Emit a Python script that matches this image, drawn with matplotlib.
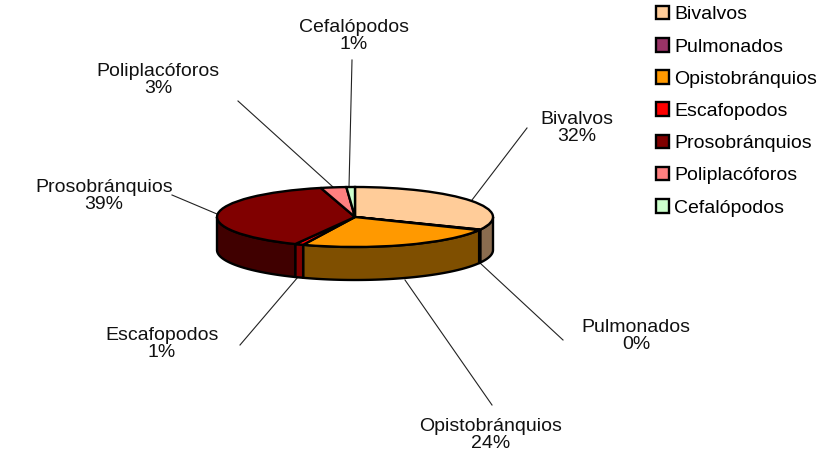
import numpy as np
import matplotlib
matplotlib.use("Agg")
import matplotlib.pyplot as plt
from matplotlib.patches import Patch

W, H = 837, 461
FONT = "Liberation Sans"
FS = 14

names = ["Bivalvos", "Pulmonados", "Opistobránquios", "Escafopodos",
         "Prosobránquios", "Poliplacóforos", "Cefalópodos"]
values = [32, 0.3, 24, 1, 39, 3, 1]
top_colors = ["#FFCC99", "#993366", "#FF9900", "#FF0000", "#800000", "#FF8080", "#CCFFCC"]
side_colors = ["#8A6C4F", "#4D1A33", "#7F4F00", "#7F0000", "#400000", "#7F4040", "#668066"]

# pixel geometry of the pie
CX, CY, RX, RY, DEPTH = 355, 217, 138, 30, 33
EDGE = 1.7

fig = plt.figure(figsize=(W / 100, H / 100), dpi=100)

# overlay in pixel coordinates: leader lines and labels
ax_t = fig.add_axes([0, 0, 1, 1])
ax_t.set_xlim(0, W)
ax_t.set_ylim(H, 0)
ax_t.axis("off")

leaders = {
    "Bivalvos": ((527, 128), (472, 200)),
    "Pulmonados": ((563, 340), (480, 263)),
    "Opistobránquios": ((492, 405), (405, 280)),
    "Escafopodos": ((240, 345), (298, 277)),
    "Prosobránquios": ((172, 195), (217, 214)),
    "Poliplacóforos": ((238, 101), (333, 187)),
    "Cefalópodos": ((352, 60), (349, 187)),
}
label_pos = {
    "Bivalvos": (577, 128), "Pulmonados": (636, 336), "Opistobránquios": (491, 435),
    "Escafopodos": (162, 344), "Prosobránquios": (104, 196),
    "Poliplacóforos": (158, 80), "Cefalópodos": (354, 36),
}
for n, v in zip(names, values):
    (x0, y0), (x1, y1) = leaders[n]
    ax_t.plot([x0, x1], [y0, y1], color="#222222", lw=0.8)
    lx, ly = label_pos[n]
    ax_t.text(lx, ly, f"{n}\n{v:.0f}%", ha="center", va="center", fontsize=FS,
              family=FONT, color="#111111", linespacing=1.05)

# pie: unit circle squashed by the axes scales
ax = fig.add_axes([0, 0, 1, 1])
ax.patch.set_alpha(0)
ax.pie(values, colors=top_colors, startangle=90, counterclock=False, radius=1,
       wedgeprops=dict(edgecolor="black", linewidth=EDGE))
ax.set_aspect("auto")
ax.set_xlim(-CX / RX, (W - CX) / RX)
ax.set_ylim(-(H - CY) / RY, CY / RY)
ax.set_frame_on(False)
ax.set_xticks([])
ax.set_yticks([])

# visible side wall of each wedge
fr = np.array(values) / np.sum(values)
ends = 90 - 360 * np.cumsum(fr)
starts = np.r_[90, ends[:-1]]
d = DEPTH / RY
for a0, a1, c in zip(starts, ends, side_colors):
    # keep only the front half: math angles between -180 and 0 (mod 360)
    for shift in (0, -360):
        hi = min(a0 - shift - 360 if False else a0 - shift, 0)
        lo = max(a1 - shift, -180)
        if hi <= lo:
            continue
        t = np.radians(np.linspace(hi, lo, 60))
        xs = np.cos(t)
        ys = np.sin(t)
        ax.fill(np.r_[xs, xs[::-1]], np.r_[ys, ys[::-1] - d], facecolor=c,
                edgecolor="black", linewidth=EDGE, joinstyle="round", zorder=0.5)

# legend
handles = [Patch(facecolor=c, edgecolor="black", linewidth=EDGE) for c in top_colors]
fig.legend(handles, names, loc="upper left", bbox_to_anchor=(650 / W, 1 - 0 / H),
           frameon=False, fontsize=FS, handlelength=0.7, handleheight=0.7,
           handletextpad=0.25, labelspacing=0.75, borderpad=0.3, borderaxespad=0,
           prop=dict(family=FONT, size=FS))

fig.savefig("out.png", dpi=100)
